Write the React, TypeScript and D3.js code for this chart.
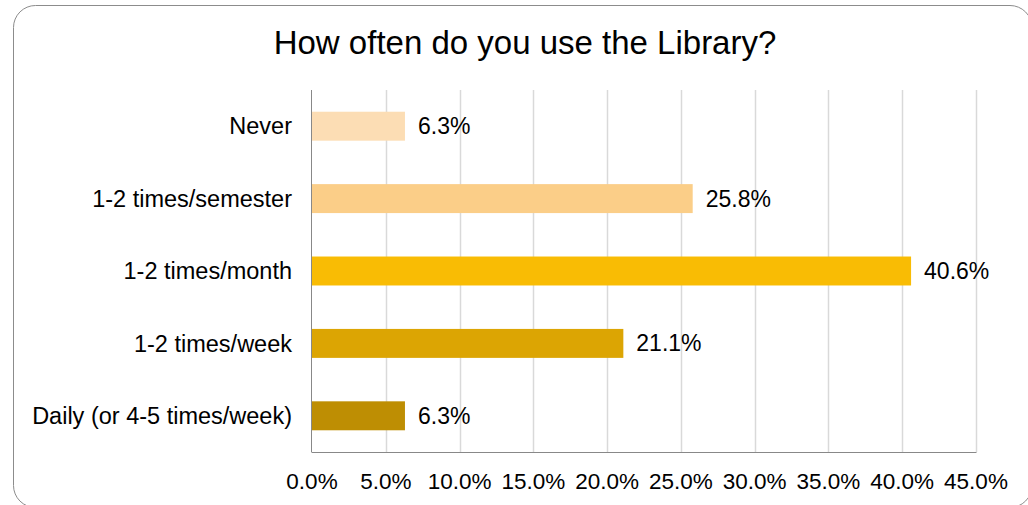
import { useEffect, useRef } from 'react';
import * as d3 from 'd3';

const categories = [
  'Never',
  '1-2 times/semester',
  '1-2 times/month',
  '1-2 times/week',
  'Daily (or 4-5 times/week)',
];
const values = [6.3, 25.8, 40.6, 21.1, 6.3];
const barColors = ['#FCDDB4', '#FBCE88', '#F9BC04', '#DCA503', '#BE8E03'];
const xTicks = [0, 5, 10, 15, 20, 25, 30, 35, 40, 45];

const W = 1028;
const H = 505;

export default function App() {
  const svgRef = useRef<SVGSVGElement | null>(null);

  useEffect(() => {
    const svg = d3.select(svgRef.current);
    svg.selectAll('*').remove();

    const font = "'Liberation Sans', Arial, sans-serif";
    const margin = { top: 90, right: 52, bottom: 53, left: 312 };
    const width = W - margin.left - margin.right;
    const height = H - margin.top - margin.bottom;

    // outer frame (runs slightly off the right and bottom edges)
    svg.append('rect')
      .attr('x', 13.5)
      .attr('y', 5.5)
      .attr('width', 1018.5)
      .attr('height', 502)
      .attr('rx', 22)
      .attr('fill', '#fff')
      .attr('stroke', '#8c8c8c')
      .attr('stroke-width', 1);

    svg.append('text')
      .attr('x', 525)
      .attr('y', 54)
      .attr('text-anchor', 'middle')
      .attr('font-family', font)
      .attr('font-size', 33)
      .attr('fill', '#000')
      .text('How often do you use the Library?');

    const g = svg.append('g')
      .attr('transform', `translate(${margin.left},${margin.top})`);

    const x = d3.scaleLinear().domain([0, 45]).range([0, width]);
    const y = d3.scaleBand<string>()
      .domain(categories)
      .range([0, height])
      .paddingInner(0.6)
      .paddingOuter(0.3);

    // vertical gridlines
    g.selectAll('.grid')
      .data(xTicks.slice(1))
      .enter()
      .append('line')
      .attr('class', 'grid')
      .attr('x1', (d) => Math.round(x(d)) + 0.5)
      .attr('x2', (d) => Math.round(x(d)) + 0.5)
      .attr('y1', 0)
      .attr('y2', height)
      .attr('stroke', '#d9d9d9')
      .attr('stroke-width', 1.5);

    // bars
    g.selectAll('.bar')
      .data(values)
      .enter()
      .append('rect')
      .attr('class', 'bar')
      .attr('x', 0)
      .attr('y', (_, i) => y(categories[i]) as number)
      .attr('width', (d) => x(d))
      .attr('height', y.bandwidth())
      .attr('fill', (_, i) => barColors[i]);

    // value labels
    g.selectAll('.val')
      .data(values)
      .enter()
      .append('text')
      .attr('class', 'val')
      .attr('x', (d) => x(d) + 13)
      .attr('y', (_, i) => (y(categories[i]) as number) + y.bandwidth() / 2)
      .attr('dy', '0.35em')
      .attr('font-family', font)
      .attr('font-size', 23)
      .attr('fill', '#000')
      .text((d) => d.toFixed(1) + '%');

    // axes lines
    g.append('line')
      .attr('x1', -0.5).attr('x2', -0.5)
      .attr('y1', 0).attr('y2', height)
      .attr('stroke', '#888').attr('stroke-width', 1);
    g.append('line')
      .attr('x1', -0.5).attr('x2', width + 0.5)
      .attr('y1', height + 0.5).attr('y2', height + 0.5)
      .attr('stroke', '#888').attr('stroke-width', 1);

    // category labels
    g.selectAll('.cat')
      .data(categories)
      .enter()
      .append('text')
      .attr('class', 'cat')
      .attr('x', -20)
      .attr('y', (d) => (y(d) as number) + y.bandwidth() / 2)
      .attr('dy', '0.35em')
      .attr('text-anchor', 'end')
      .attr('font-family', font)
      .attr('font-size', 23.5)
      .attr('fill', '#000')
      .text((d) => d);

    // x tick labels
    g.selectAll('.xt')
      .data(xTicks)
      .enter()
      .append('text')
      .attr('class', 'xt')
      .attr('x', (d) => x(d))
      .attr('y', height + 37)
      .attr('text-anchor', 'middle')
      .attr('font-family', font)
      .attr('font-size', 22.5)
      .attr('fill', '#000')
      .text((d) => d.toFixed(1) + '%');
  }, []);

  return (
    <svg
      ref={svgRef}
      width={W}
      height={H}
      style={{ position: 'absolute', left: 0, top: 0, background: '#fff' }}
    ></svg>
  );
}
